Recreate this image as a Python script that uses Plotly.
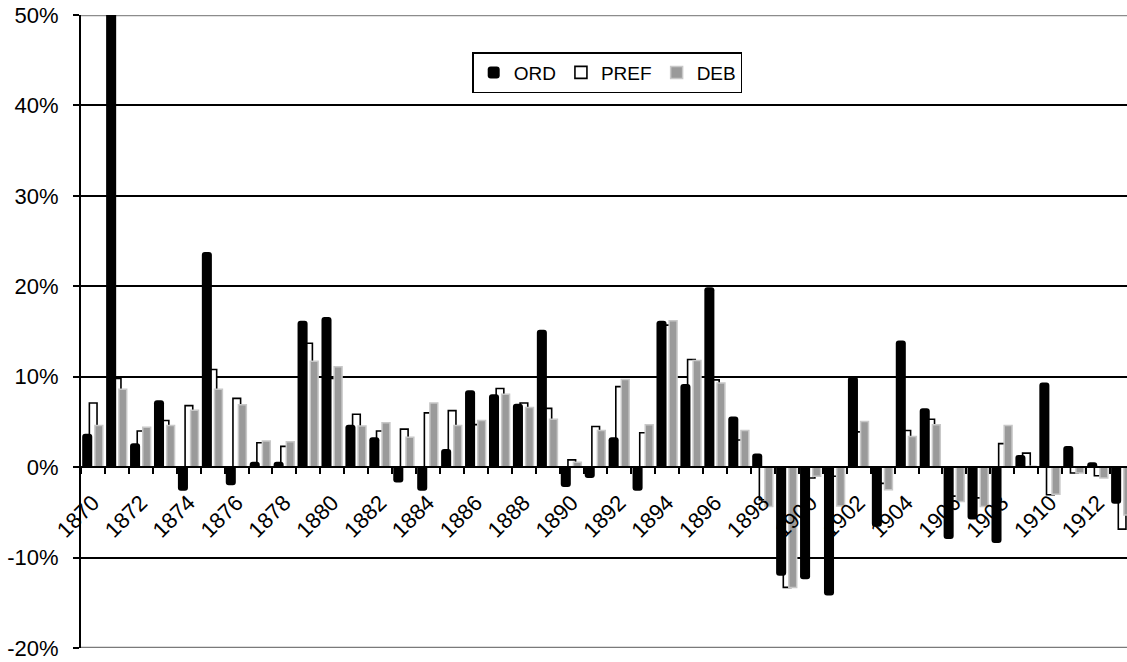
import plotly.graph_objects as go

years = list(range(1870, 1914))
ORD = [3.7, 60, 2.65, 7.4, -2.6, 23.8, -2.0, 0.6, 0.6, 16.2, 16.6, 4.7, 3.3, -1.7, -2.6, 2.0,
       8.5, 8.05, 7.0, 15.2, -2.2, -1.2, 3.3, -2.6, 16.2, 9.2, 19.9, 5.6, 1.5, -12.0, -12.4,
       -14.2, 10.0, -6.6, 14.0, 6.5, -7.95, -5.8, -8.4, 1.35, 9.35, 2.35, 0.55, -4.05]
PREF = [7.1, 9.8, 4.0, 5.15, 6.8, 10.8, 7.6, 2.7, 2.3, 13.7, 9.8, 5.85, 4.0, 4.2, 6.0, 6.25,
        4.7, 8.7, 7.1, 6.5, 0.8, 4.5, 8.9, 3.8, 15.7, 11.9, 9.65, 3.0, -3.6, -13.3, -1.2,
        -1.0, 3.9, -1.8, 4.05, 5.3, -3.2, -3.4, 2.6, 1.55, -3.05, -0.65, -0.95, -6.85]
DEB = [4.6, 8.6, 4.4, 4.6, 6.3, 8.6, 6.9, 2.9, 2.8, 11.7, 11.1, 4.55, 4.9, 3.3, 7.1, 4.6,
       5.15, 8.05, 6.6, 5.3, 0.55, 4.05, 9.7, 4.7, 16.2, 11.8, 9.3, 4.05, -4.35, -13.3, -1.0,
       -4.3, 5.05, -2.5, 3.4, 4.7, -3.8, -4.35, 4.6, 0.1, -3.0, -0.65, -1.2, -5.3]
tick_years = list(range(1870, 1913, 2))
y_ticks = [-20, -10, 0, 10, 20, 30, 40, 50]

FONT = "Liberation Sans, Arial, sans-serif"

fig = go.Figure()
# PREF drawn first (partly hidden behind the others)
fig.add_trace(go.Bar(x=years, y=PREF, name="PREF", offset=-0.15, width=0.32, legendrank=2,
                     marker=dict(color="white", line=dict(color="black", width=1.6))))
fig.add_trace(go.Bar(x=years, y=ORD, name="ORD", offset=-0.45, width=0.42, legendrank=1,
                     marker=dict(color="black", line=dict(color="black", width=0), cornerradius=3)))
fig.add_trace(go.Bar(x=years, y=DEB, name="DEB", offset=0.08, width=0.33, legendrank=3,
                     marker=dict(color="#9a9a9a", line=dict(color="#c8c8c8", width=1.5))))

x0 = 1869.5
fig.update_layout(
    width=1127, height=662,
    margin=dict(l=80.5, r=0, t=15, b=14, autoexpand=False),
    paper_bgcolor="white", plot_bgcolor="white",
    barmode="overlay",
    showlegend=True,
    legend=dict(orientation="h", x=0.374, xanchor="left", y=0.9415, yanchor="top",
                bordercolor="black", borderwidth=1.5, bgcolor="white",
                font=dict(family=FONT, size=19, color="black"),
                itemwidth=30),
    font=dict(family=FONT, size=22, color="black"),
    xaxis=dict(range=[x0, x0 + 1046.5 / 23.94], tickmode="array", tickvals=tick_years,
               ticktext=[str(t) for t in tick_years], tickangle=-45, ticks="",
               anchor="free", position=20 / 70, showline=True, linecolor="black",
               linewidth=2, showgrid=False, zeroline=False, automargin=False,
               ticklabelstandoff=13, ticklabeloverflow="allow",
               minor=dict(tickmode="linear", tick0=x0, dtick=1, ticks="outside",
                          ticklen=6, tickwidth=1.5, tickcolor="black", showgrid=False),
               tickfont=dict(family=FONT, size=22, color="black")),
    yaxis=dict(range=[-20, 50], tickvals=y_ticks, ticktext=[f"{v}%" for v in y_ticks],
               showgrid=True, gridcolor="black", gridwidth=1.6, zeroline=False,
               showline=True, linecolor="black", linewidth=2, ticks="outside",
               ticklen=6, tickwidth=1.5, tickcolor="black", ticklabelstandoff=10,
               automargin=False, ticklabeloverflow="allow",
               tickfont=dict(family=FONT, size=22, color="black"), domain=[0, 1]),
    shapes=[
        dict(type="line", xref="paper", yref="y", x0=0, x1=1, y0=50, y1=50,
             line=dict(color="#8c8c8c", width=2.5), layer="below"),
        dict(type="line", xref="paper", yref="y", x0=0, x1=1, y0=-20, y1=-20,
             line=dict(color="#7a7a7a", width=2.5), layer="below"),
    ],
)

fig.write_html("out.html", config={"displayModeBar": False},
               post_script="document.body.style.margin='0';document.body.style.overflow='hidden';")
